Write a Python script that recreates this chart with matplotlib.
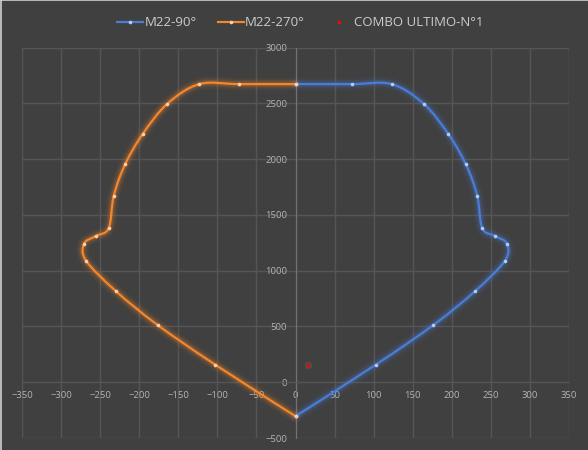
import numpy as np
import matplotlib
matplotlib.use("Agg")
import matplotlib.pyplot as plt
from matplotlib.path import Path
from matplotlib.patches import PathPatch
from matplotlib.lines import Line2D

plt.rcParams['font.family'] = ['Open Sans', 'DejaVu Sans']

# M22-90° (blue) - from top junction down to the bottom point
m90_x = [0, 72.5, 123, 164, 195.5, 218, 232.5, 239, 255, 270.5, 268, 229.5, 176.5, 102.5, 0]
m90_y = [2672, 2672, 2672, 2496, 2225, 1953, 1673, 1381, 1312, 1243, 1089, 814, 513, 156, -305]

# M22-270° (orange) - mirror side
m270_x = [0, -72.5, -123, -164, -195.5, -218, -232.5, -239, -255, -270.5, -268, -229.5, -176.5, -102.5, 0]
m270_y = [2672, 2672, 2672, 2496, 2225, 1953, 1673, 1381, 1312, 1243, 1089, 814, 513, 156, -305]

# COMBO ULTIMO-N°1
combo_x = [16]
combo_y = [158]

x_ticks = list(range(-350, 351, 50))
y_ticks = list(range(-500, 3001, 500))

BG = '#404040'
GRID = '#555555'
TXT = '#b4b4b4'
BLUE = '#4a7dd6'
ORANGE = '#f4862b'


def smooth_path(xs, ys):
    # excel-like smoothed line (catmull-rom -> cubic bezier)
    pts = np.column_stack([xs, ys]).astype(float)
    n = len(pts)
    verts = [pts[0]]
    codes = [Path.MOVETO]
    for i in range(n - 1):
        p0 = pts[max(i - 1, 0)]
        p1 = pts[i]
        p2 = pts[i + 1]
        p3 = pts[min(i + 2, n - 1)]
        verts += [p1 + (p2 - p0) / 6, p2 - (p3 - p1) / 6, p2]
        codes += [Path.CURVE4] * 3
    return Path(verts, codes)


def draw_series(ax, xs, ys, color, marker_color):
    path = smooth_path(xs, ys)
    # glow
    for lw, a in [(9, 0.06), (6, 0.10), (4, 0.16)]:
        ax.add_patch(PathPatch(path, facecolor='none', edgecolor=color,
                               lw=lw, alpha=a, zorder=3, capstyle='round'))
    ax.add_patch(PathPatch(path, facecolor='none', edgecolor=color, lw=1.6, zorder=4))
    ax.plot(xs, ys, ls='none', marker='o', ms=2.6, mfc=marker_color,
            mec='none', zorder=5)


fig = plt.figure(figsize=(5.88, 4.5), dpi=100)
fig.patch.set_facecolor(BG)
ax = fig.add_axes([22 / 588, 1 - 438 / 450, (569 - 22) / 588, (438 - 47.5) / 450])
ax.set_facecolor(BG)

ax.set_xlim(-350, 350)
ax.set_ylim(-500, 3000)
ax.set_xticks(x_ticks)
ax.set_yticks(y_ticks)

ax.grid(True, color=GRID, lw=1.0, zorder=0)
ax.set_axisbelow(True)

for s in ['top', 'right']:
    ax.spines[s].set_visible(False)
ax.spines['left'].set_position(('data', 0))
ax.spines['bottom'].set_position(('data', 0))
ax.spines['left'].set_color('#727272')
ax.spines['bottom'].set_color(GRID)
ax.tick_params(length=0, colors=TXT, labelsize=6.8)
ax.tick_params(axis='x', pad=6)
ax.tick_params(axis='y', pad=6)
for lab in ax.get_xticklabels() + ax.get_yticklabels():
    lab.set_zorder(6)

draw_series(ax, m90_x, m90_y, BLUE, '#b4cbf2')
draw_series(ax, m270_x, m270_y, ORANGE, '#fbd0ab')

# red point with soft halo
ax.plot(combo_x, combo_y, ls='none', marker='o', ms=5.5, mfc='#7a7a7a', mec='none',
        alpha=0.25, zorder=5)
ax.plot(combo_x, combo_y, ls='none', marker='o', ms=2.6, mfc='#ff0000', mec='none', zorder=6)

handles = [
    Line2D([], [], color=BLUE, lw=1.6, marker='o', ms=2.6, mfc='#b4cbf2', mec='none'),
    Line2D([], [], color=ORANGE, lw=1.6, marker='o', ms=2.6, mfc='#fbd0ab', mec='none'),
    Line2D([], [], ls='none', marker='o', ms=2.6, mfc='#ff0000', mec='none'),
]
labels = ['M22-90°', 'M22-270°', 'COMBO ULTIMO-N°1']
leg = fig.legend(handles, labels, loc='center', bbox_to_anchor=(0.51, 1 - 23 / 450),
                 ncol=3, frameon=False, fontsize=9.5, handlelength=2.0,
                 handletextpad=0.1, columnspacing=1.6)
for t in leg.get_texts():
    t.set_color('#cccccc')

# thin light border at top and left edge
fig.add_artist(Line2D([0, 1], [0.999, 0.999], transform=fig.transFigure, color='#d0d0d0', lw=1.2))
fig.add_artist(Line2D([0.001, 0.001], [0, 1], transform=fig.transFigure, color='#d0d0d0', lw=1.2))

fig.savefig('out.png', dpi=100, facecolor=BG)
